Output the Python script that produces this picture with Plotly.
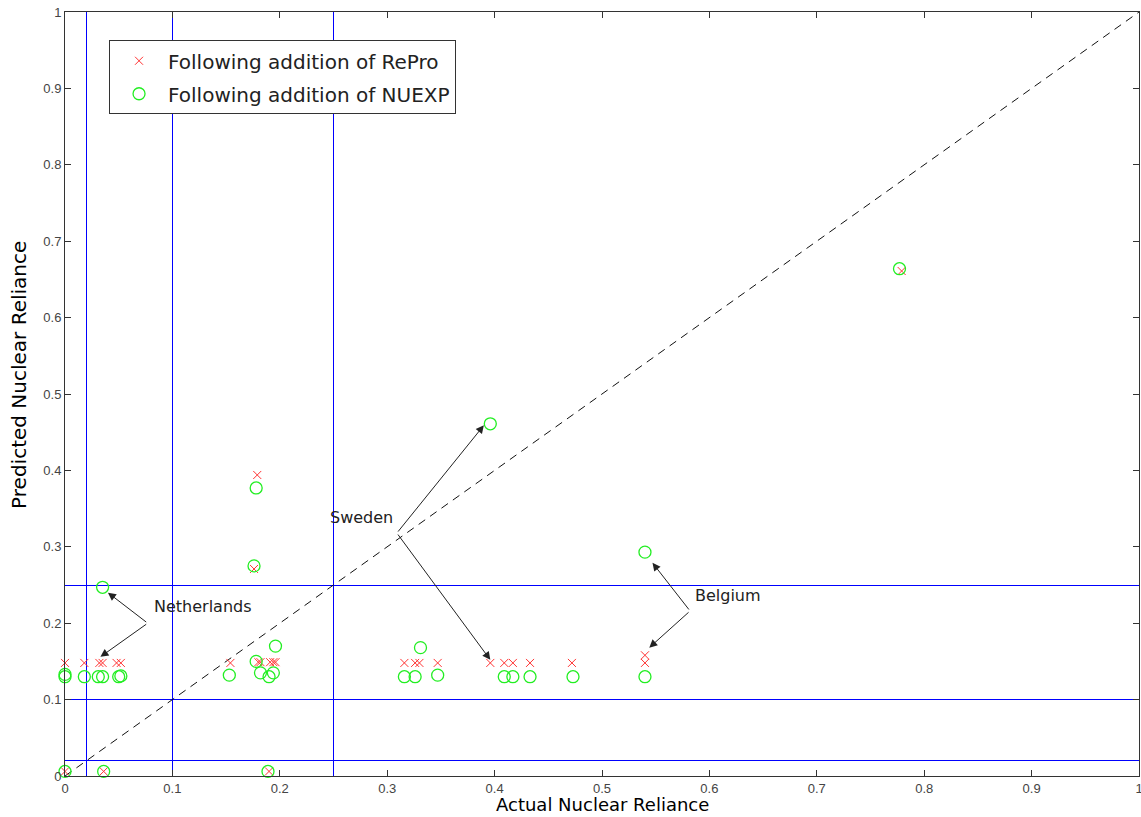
import plotly.graph_objects as go

# RePro (red x) points
repro_x = [0.0, 0.018, 0.032, 0.035, 0.048, 0.052, 0.154, 0.179, 0.176, 0.180, 0.182,
           0.191, 0.194, 0.196, 0.316, 0.326, 0.330, 0.347, 0.396, 0.409, 0.417, 0.433,
           0.472, 0.540, 0.540, 0.779, 0.0, 0.036, 0.190]
repro_y = [0.148, 0.148, 0.148, 0.148, 0.148, 0.148, 0.148, 0.394, 0.271, 0.149, 0.149,
           0.149, 0.149, 0.149, 0.148, 0.148, 0.148, 0.148, 0.148, 0.148, 0.148, 0.148,
           0.148, 0.148, 0.158, 0.661, 0.006, 0.006, 0.006]

# NUEXP (green circle) points
nuexp_x = [0.0, 0.0, 0.018, 0.031, 0.035, 0.050, 0.052, 0.035, 0.153, 0.176, 0.178,
           0.178, 0.182, 0.190, 0.194, 0.196, 0.316, 0.326, 0.331, 0.347, 0.396, 0.409,
           0.417, 0.433, 0.473, 0.540, 0.540, 0.777, 0.0, 0.036, 0.189]
nuexp_y = [0.130, 0.133, 0.130, 0.130, 0.130, 0.130, 0.131, 0.247, 0.132, 0.275, 0.377,
           0.150, 0.135, 0.130, 0.135, 0.170, 0.130, 0.130, 0.168, 0.132, 0.461, 0.130,
           0.130, 0.130, 0.130, 0.130, 0.293, 0.664, 0.006, 0.006, 0.006]

ref_levels = [0.02, 0.1, 0.25]
ticks = [0, 0.1, 0.2, 0.3, 0.4, 0.5, 0.6, 0.7, 0.8, 0.9, 1]
tick_text = ["0", "0.1", "0.2", "0.3", "0.4", "0.5", "0.6", "0.7", "0.8", "0.9", "1"]

# annotation labels: (text, text_left_x, text_y, origin_x, origin_y, [(tip_x, tip_y), ...])
labels = [
    ("Netherlands", 0.081, 0.222, 0.077, 0.200, [(0.040, 0.240), (0.033, 0.156)]),
    ("Sweden", 0.245, 0.339, 0.309, 0.318, [(0.390, 0.459), (0.396, 0.152)]),
    ("Belgium", 0.585, 0.236, 0.582, 0.216, [(0.547, 0.279), (0.544, 0.168)]),
]

FONT = "DejaVu Sans, Verdana, sans-serif"

fig = go.Figure()

# invisible trace to activate the overlay axes that carry the blue reference lines
fig.add_trace(go.Scatter(x=[0], y=[0], xaxis="x2", yaxis="y2", mode="markers",
                         marker=dict(opacity=0), showlegend=False, hoverinfo="skip"))

fig.add_trace(go.Scatter(x=[0, 1], y=[0, 1], mode="lines",
                         line=dict(color="#111111", width=1, dash="8px,6px"),
                         showlegend=False, hoverinfo="skip"))

fig.add_trace(go.Scatter(x=repro_x, y=repro_y, mode="markers", name="Following addition of RePro",
                         legendgroup="a",
                         marker=dict(symbol="x-thin", size=8, line=dict(color="#ff3333", width=1),
                                     color="#ff3333"),
                         cliponaxis=False))
fig.add_trace(go.Scatter(x=nuexp_x, y=nuexp_y, mode="markers", name="Following addition of NUEXP",
                         legendgroup="b",
                         marker=dict(symbol="circle-open", size=12, line=dict(color="#22ee22", width=1.3),
                                     color="#22ee22"),
                         cliponaxis=False))

for text, tx, ty, ox, oy, tips in labels:
    fig.add_annotation(x=tx, y=ty, xref="x", yref="y", text=text, showarrow=False,
                       xanchor="left", yanchor="middle",
                       font=dict(family=FONT, size=16, color="#222222"))
    for px, py in tips:
        fig.add_annotation(x=px, y=py, ax=ox, ay=oy, xref="x", yref="y", axref="x", ayref="y",
                           text="", showarrow=True, arrowhead=2, arrowsize=1.6, arrowwidth=1,
                           arrowcolor="#222222")

# axis titles
fig.add_annotation(x=0.5, y=0, xref="paper", yref="paper", yshift=-41, yanchor="bottom",
                   text="Actual Nuclear Reliance", showarrow=False,
                   font=dict(family=FONT, size=18, color="black"))
fig.add_annotation(x=0, y=0.525, xref="paper", yref="paper", xshift=-46, xanchor="center",
                   textangle=-90, text="Predicted Nuclear Reliance", showarrow=False,
                   font=dict(family=FONT, size=20, color="black"))

axis_common = dict(range=[0, 1], tickvals=ticks, ticktext=tick_text, ticks="inside", ticklen=6,
                   tickcolor="#333333", showline=True, linecolor="#333333", linewidth=1,
                   mirror="ticks", showgrid=False, zeroline=False, automargin=False,
                   ticklabeloverflow="allow",
                   tickfont=dict(family="Liberation Sans, Arial", size=13, color="#444444"))

ref_axis = dict(range=[0, 1], tickvals=ref_levels, showgrid=True, gridcolor="#0000ff", gridwidth=1,
                showticklabels=False, ticks="", showline=False, zeroline=False, automargin=False)

fig.update_layout(
    width=1141, height=817,
    margin=dict(l=65, r=2, t=12, b=41, autoexpand=False),
    plot_bgcolor="white", paper_bgcolor="white",
    xaxis=axis_common, yaxis=axis_common,
    xaxis2=dict(overlaying="x", **ref_axis),
    yaxis2=dict(overlaying="y", **ref_axis),
    legend=dict(x=0.041, y=0.963, xanchor="left", yanchor="top",
                bordercolor="#333333", borderwidth=1, bgcolor="white",
                font=dict(family=FONT, size=20, color="#222222"),
                itemwidth=48, tracegroupgap=4),
)

fig.write_html("out.html", config={"displayModeBar": False},
               post_script="document.body.style.margin='0';document.body.style.overflow='hidden';")
